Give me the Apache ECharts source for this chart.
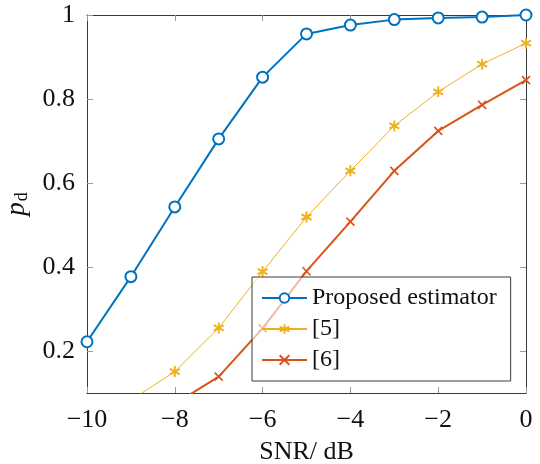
<!DOCTYPE html>
<html>
<head>
<meta charset="utf-8">
<script src="https://cdn.jsdelivr.net/npm/echarts@6/dist/echarts.min.js"></script>
<style>
  html, body { margin: 0; padding: 0; background: #fff; }
  #chart { width: 540px; height: 464px; }
</style>
</head>
<body>
<div id="chart"></div>
<script>
const snr = [-10, -9, -8, -7, -6, -5, -4, -3, -2, -1, 0];
const proposed = [0.222, 0.377, 0.543, 0.705, 0.852, 0.955, 0.976, 0.989, 0.993, 0.995, 1.0];
const ref5 = [null, 0.083, 0.151, 0.255, 0.389, 0.519, 0.629, 0.736, 0.817, 0.883, 0.933];
const ref6 = [null, null, 0.074, 0.139, 0.254, 0.39, 0.508, 0.629, 0.724, 0.786, 0.845];
const xTicks = [-10, -8, -6, -4, -2, 0];
const yTicks = [0.2, 0.4, 0.6, 0.8, 1];

const FONT = "Liberation Serif";
const TICK = "#9a9a9a";
const FRAME = "#3a3a3a";

// asterisk and cross markers (stroked paths)
const asterisk = "path://M1 0L1 2M0.134 1.5L1.866 0.5M0.134 0.5L1.866 1.5";
const cross = "path://M0 0L2 2M2 0L0 2";

function pairs(ys) {
  return snr.map((x, i) => [x, ys[i]]);
}
function fmtNum(v) {
  return String(v).replace("-", "\u2212");
}

let chart = echarts.init(document.getElementById("chart"), null, { renderer: "canvas" });

const axisCommon = {
  axisLine: { show: true, onZero: false, lineStyle: { color: FRAME, width: 1 } },
  axisTick: { show: true, inside: true, length: 6, lineStyle: { color: TICK, width: 1 } },
  splitLine: { show: false },
};

const options = {
  backgroundColor: "#fff",
  animation: false,
  grid: { left: 87, right: 14, top: 15, bottom: 71, containLabel: false, outerBoundsMode: "none" },
  legend: {
    orient: "vertical",
    left: 252,
    top: 277,
    padding: [9, 14, 9, 9],
    itemWidth: 45,
    itemHeight: 12,
    itemGap: 7,
    backgroundColor: "rgba(255,255,255,0.6)",
    borderColor: FRAME,
    borderWidth: 1,
    borderRadius: 0,
    textStyle: { fontFamily: FONT, fontSize: 24, color: "#111", lineHeight: 24 },
    data: ["Proposed estimator", "[5]", "[6]"],
  },
  xAxis: [
    {
      type: "value",
      min: -10,
      max: 0,
      interval: 2,
      ...axisCommon,
      axisLabel: {
        fontFamily: FONT, fontSize: 26, color: "#111", margin: 14,
        customValues: xTicks,
        formatter: fmtNum,
      },
      axisTick: { ...axisCommon.axisTick, customValues: xTicks },
      name: "SNR/ dB",
      nameLocation: "middle",
      nameGap: 46,
      nameTextStyle: { fontFamily: FONT, fontSize: 26, color: "#111" },
    },
    {
      type: "value",
      position: "top",
      min: -10,
      max: 0,
      interval: 2,
      ...axisCommon,
      axisLabel: { show: false },
    },
  ],
  yAxis: [
    {
      type: "value",
      min: 0.1,
      max: 1,
      ...axisCommon,
      axisTick: { ...axisCommon.axisTick, customValues: yTicks },
      axisLabel: {
        fontFamily: FONT, fontSize: 26, color: "#111", margin: 12,
        customValues: yTicks,
        formatter: (v) => String(Math.round(v * 10) / 10),
      },
      name: "{i|p}{s|d}",
      nameLocation: "middle",
      nameGap: 54,
      nameRotate: 90,
      nameTextStyle: {
        rich: {
          i: { fontFamily: FONT, fontSize: 27, fontStyle: "italic", color: "#111", lineHeight: 30 },
          s: { fontFamily: FONT, fontSize: 18, color: "#111", lineHeight: 30, verticalAlign: "bottom", padding: [7, 0, 0, 1] },
        },
      },
    },
    {
      type: "value",
      position: "right",
      min: 0.1,
      max: 1,
      ...axisCommon,
      axisTick: { ...axisCommon.axisTick, customValues: yTicks },
      axisLabel: { show: false, customValues: yTicks },
    },
  ],
  series: [
    {
      name: "Proposed estimator",
      type: "line",
      data: pairs(proposed),
      symbol: "emptyCircle",
      symbolSize: 11,
      color: "#0072BD",
      lineStyle: { color: "#0072BD", width: 2 },
      itemStyle: { color: "#0072BD", borderColor: "#0072BD", borderWidth: 2 },
      z: 4,
    },
    {
      name: "[5]",
      type: "line",
      data: pairs(ref5),
      symbol: asterisk,
      symbolSize: [10, 11],
      color: "#EDB120",
      lineStyle: { color: "#EDB120", width: 1 },
      itemStyle: { color: "#EDB120", borderColor: "#EDB120", borderWidth: 2 },
      z: 2,
    },
    {
      name: "[6]",
      type: "line",
      data: pairs(ref6),
      symbol: cross,
      symbolSize: 8,
      color: "#D95319",
      lineStyle: { color: "#D95319", width: 2 },
      itemStyle: { color: "#D95319", borderColor: "#D95319", borderWidth: 1.6 },
      z: 3,
    },
  ],
};
chart.setOption(options);
</script>
</body>
</html>
